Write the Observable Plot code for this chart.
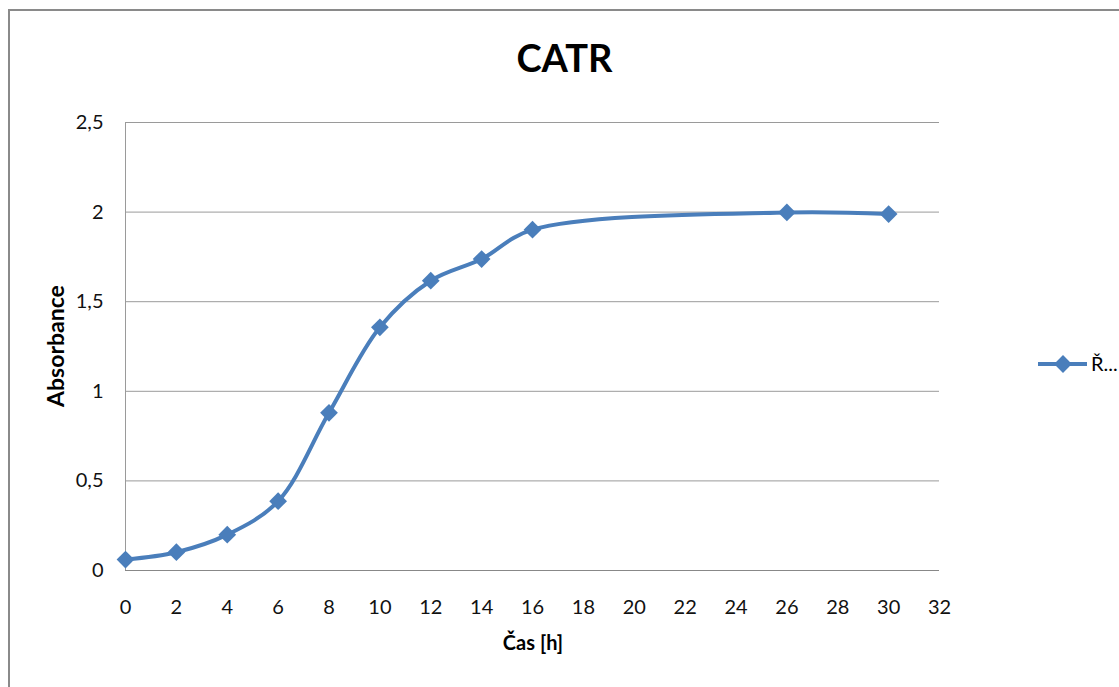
<!DOCTYPE html>
<html>
<head>
<meta charset="utf-8">
<script src="https://cdn.jsdelivr.net/npm/d3@7"></script>
<script src="https://cdn.jsdelivr.net/npm/@observablehq/plot@0.6"></script>
<style>
  html, body { margin: 0; padding: 0; background: #fff; overflow: hidden; }
  #wrap { position: relative; width: 1119px; height: 687px; overflow: hidden; font-family: Lato, "Open Sans", sans-serif; }
  #frame { position: absolute; left: 8px; top: 9px; width: 1300px; height: 900px; border: 2px solid #8a8a8a; box-sizing: border-box; }
  #chart { position: absolute; left: 0; top: 0; }
  .title { position: absolute; left: 0; width: 1129px; top: 38px; text-align: center; font-weight: bold; font-size: 38px; line-height: 1; color: #000; }
  .xlabel { position: absolute; left: 0; width: 1066px; top: 632px; text-align: center; font-weight: bold; font-size: 20px; line-height: 1; color: #000; }
  .ylabel { position: absolute; left: 55px; top: 346px; transform: translate(-50%, -50%) rotate(-90deg); font-weight: bold; font-size: 23px; line-height: 1; white-space: nowrap; color: #000; }
  #legend { position: absolute; left: 1030px; top: 350px; }
</style>
</head>
<body>
<div id="wrap">
  <div id="frame"></div>
  <div id="chart"></div>
  <div class="title">CATR</div>
  <div class="ylabel">Absorbance</div>
  <div class="xlabel">Čas [h]</div>
  <svg id="legend" width="89" height="30"></svg>
</div>
<script>
// Growth measurement: absorbance over time
const hours = [0, 2, 4, 6, 8, 10, 12, 14, 16, 26, 30];
const absorbance = [0.061, 0.102, 0.20, 0.387, 0.88, 1.357, 1.617, 1.738, 1.902, 1.998, 1.989];
const seriesName = "Ř...";
const yTicks = [0, 0.5, 1, 1.5, 2, 2.5];
const xTicks = d3.range(0, 33, 2);

const blue = "#4a7ebb";
const data = hours.map((h, i) => ({h, a: absorbance[i]}));
const comma = d => String(d).replace(".", ",");

const chart = Plot.plot({
  width: 1119,
  height: 687,
  marginLeft: 125,
  marginRight: 180,
  marginTop: 122,
  marginBottom: 117,
  style: {fontFamily: "Lato, 'Open Sans', sans-serif", fontSize: "20px", color: "#111", background: "transparent"},
  x: {domain: [0, 32], ticks: xTicks, label: null},
  y: {domain: [0, 2.5], ticks: yTicks, label: null},
  marks: [
    Plot.gridY(yTicks, {stroke: "#9a9a9a", strokeOpacity: 1}),
    Plot.ruleX([0], {stroke: "#9a9a9a"}),
    Plot.ruleY([0], {stroke: "#888"}),
    Plot.axisY(yTicks, {tickSize: 0, tickPadding: 22, tickFormat: comma}),
    Plot.axisX(xTicks, {tickSize: 0, tickPadding: 29, tickFormat: d => String(d)}),
    Plot.line(data, {x: "h", y: "a", curve: "catmull-rom", stroke: blue, strokeWidth: 4}),
    Plot.dot(data, {x: "h", y: "a", symbol: "diamond2", r: 8, fill: blue, stroke: "none"})
  ]
});
document.getElementById("chart").appendChild(chart);

// Legend entry: line with a diamond marker and the series name
const lg = d3.select("#legend");
lg.append("line").attr("x1", 8).attr("x2", 57).attr("y1", 14).attr("y2", 14)
  .attr("stroke", blue).attr("stroke-width", 4);
lg.append("path").attr("transform", "translate(33,14)")
  .attr("d", d3.symbol(d3.symbolDiamond2, 8 * 8 * Math.PI)()).attr("fill", blue);
lg.append("text").attr("x", 61).attr("y", 21).attr("font-family", "Lato, sans-serif")
  .attr("font-size", 20).attr("fill", "#000").text(seriesName);
</script>
</body>
</html>
